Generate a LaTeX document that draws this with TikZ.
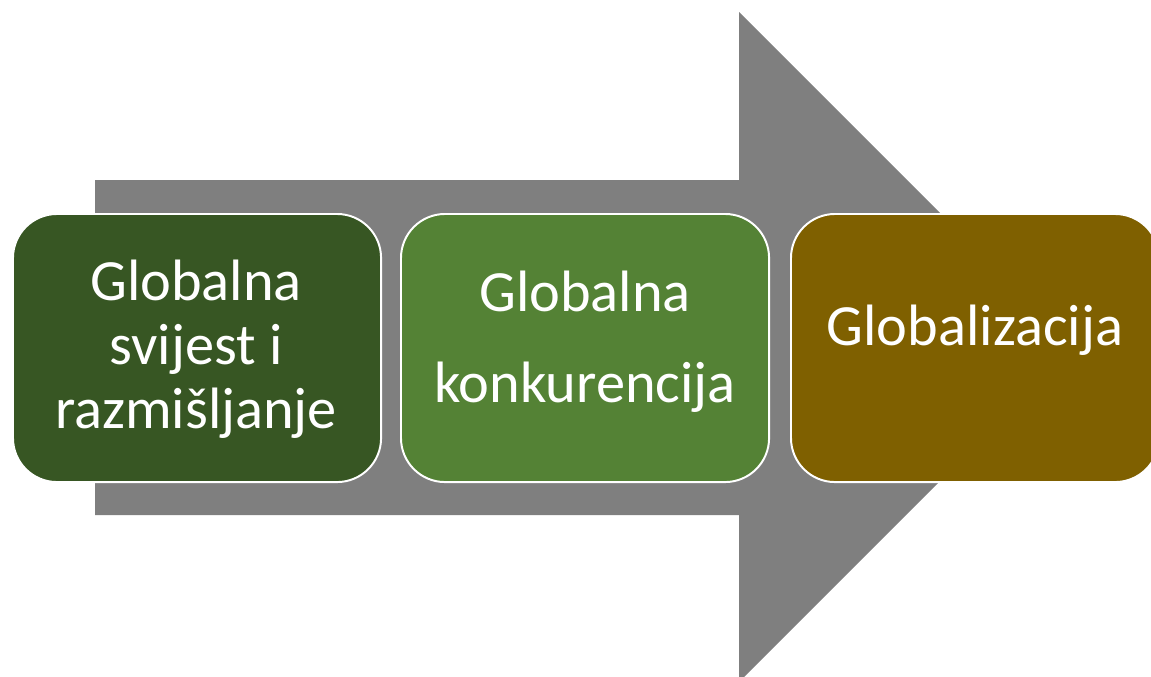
\documentclass[tikz,border=0pt]{standalone}
\usepackage{fontspec}
\setmainfont{Carlito}
\usepackage{tikz}
\usetikzlibrary{calc}
\usetikzlibrary{positioning}
\definecolor{arrowgray}{HTML}{7F7F7F}
\definecolor{darkgreen}{HTML}{375623}
\definecolor{midgreen}{HTML}{548235}
\definecolor{olive}{HTML}{7F6000}

\begin{document}
\begin{tikzpicture}[x=0.025cm, y=-0.025cm,
stage/.style={draw=white, line width=1.4pt, rounded corners=1.1cm, anchor=north west,
  minimum width=9.2cm, minimum height=6.7cm, inner sep=0pt},
stagetext/.style={text=white, align=center, font=\fontsize{41.5}{45.5}\selectfont},
bigarrow/.style={fill=arrowgray}]

%%%%%% SETTINGS %%%%%%%%%%

\pgfmathtruncatemacro{\headtop}{12}
\pgfmathtruncatemacro{\headbot}{682}

%%%%%% RAJZ %%%%%%%%%%

\useasboundingbox (0,0) rectangle (1151,677);

\fill [bigarrow] (95,180) -- (739,180) -- (739,\headtop) -- (1074,347)
  -- (739,\headbot) -- (739,515) -- (95,515) -- cycle;

\node [stage, fill=darkgreen] (s1) at (12,213) {};
\node [stage, fill=midgreen] (s2) at (400,213) {};
\node [stage, fill=olive] (s3) at (790,213) {};

\node [stagetext] (t1) at (196,349) {Globalna\\svijest i\\razmišljanje};
\node [stagetext, font=\fontsize{41.5}{64.7}\selectfont] (t2) at (585,342) {Globalna\\konkurencija};
\node [stagetext] (t3) at (975,330) {Globalizacija};

\end{tikzpicture}
\end{document}
